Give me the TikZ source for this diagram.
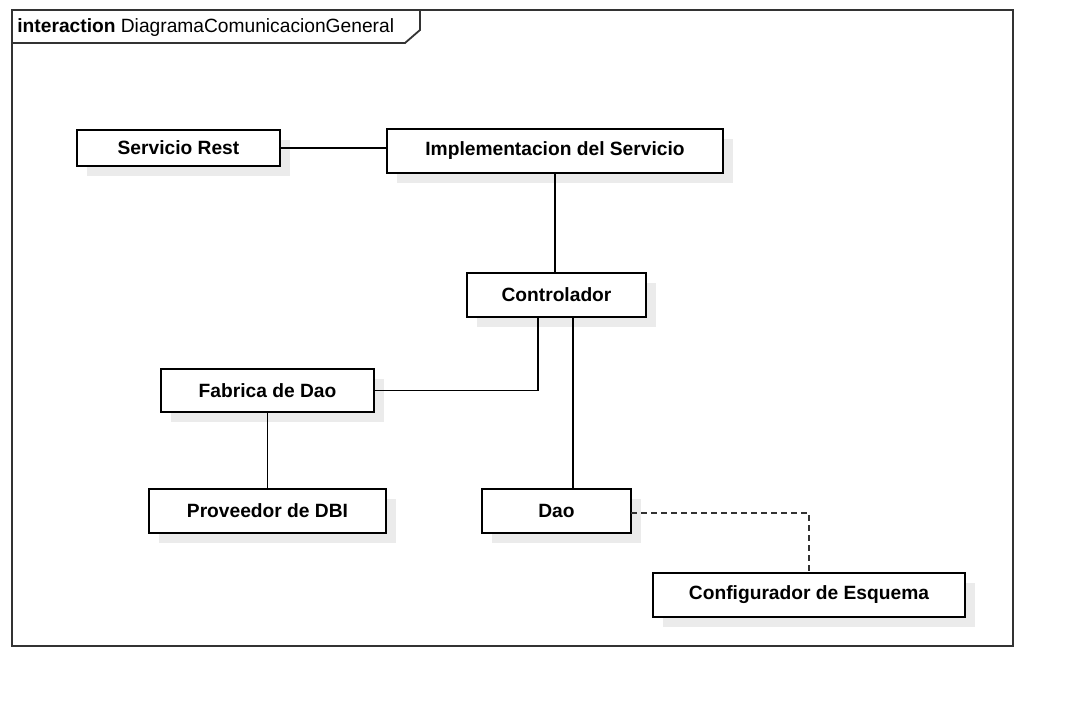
\documentclass[tikz,border=0pt]{standalone}
\usepackage{fontspec}
\setmainfont{Liberation Sans}
\usetikzlibrary{shadows}
\tikzset{
  px/.style={x=0.5pt,y=-0.5pt},
  obj/.style={draw=black, line width=0.75pt, fill=white, inner sep=0pt, outer sep=0pt,
    font=\fontsize{9.6}{11}\selectfont\bfseries,
    drop shadow={shadow xshift=5pt, shadow yshift=-5pt, fill=black!8, opacity=1}},
  link/.style={draw=black, line width=0.75pt},
  deplink/.style={draw=black!80, line width=0.75pt, dash pattern=on 3pt off 2pt},
  framebox/.style={draw=black!80, line width=0.9pt},
}
\begin{document}
\begin{tikzpicture}[px]
\useasboundingbox (0,0) rectangle (1075,711);
% frame
\draw[framebox] (12,10) rectangle (1013,646);
\draw[framebox] (12,43) -- (405,43) -- (420,30) -- (420,10);
\node[anchor=base west, inner sep=0pt, font=\fontsize{9.6}{11}\selectfont] (title) at (17,33)
  {\textbf{interaction} DiagramaComunicacionGeneral};
% nodes
\node[obj, minimum width=101.5pt, minimum height=18pt] (sr) at (178.5,148) {Servicio Rest};
\node[obj, minimum width=168pt, minimum height=22pt] (impl) at (555,151) {Implementacion del Servicio};
\node[obj, minimum width=89.5pt, minimum height=22pt] (ctrl) at (556.5,295) {Controlador};
\node[obj, minimum width=106.5pt, minimum height=21.5pt] (fab) at (267.5,390.5) {Fabrica de Dao};
\node[obj, minimum width=118.5pt, minimum height=22pt] (prov) at (267.5,511) {Proveedor de DBI};
\node[obj, minimum width=74.5pt, minimum height=22pt] (dao) at (556.5,511) {Dao};
\node[obj, minimum width=156pt, minimum height=22pt] (conf) at (809,595) {Configurador de Esquema};
% connectors
\draw[link] (sr.east) -- (sr.east -| impl.west);
\draw[link] (impl.south) -- (ctrl.north -| impl.south);
\coordinate (c1) at (538,390.5);
\draw[link] (ctrl.south -| c1) -- (c1) -- (fab.east);
\coordinate (c2) at (573,0);
\draw[link] (ctrl.south -| c2) -- (dao.north -| c2);
\draw[link] (fab.south) -- (prov.north);
\coordinate (c3) at (809,513);
\draw[deplink] (dao.east |- c3) -- (c3) -- (conf.north -| c3);
\end{tikzpicture}
\end{document}
